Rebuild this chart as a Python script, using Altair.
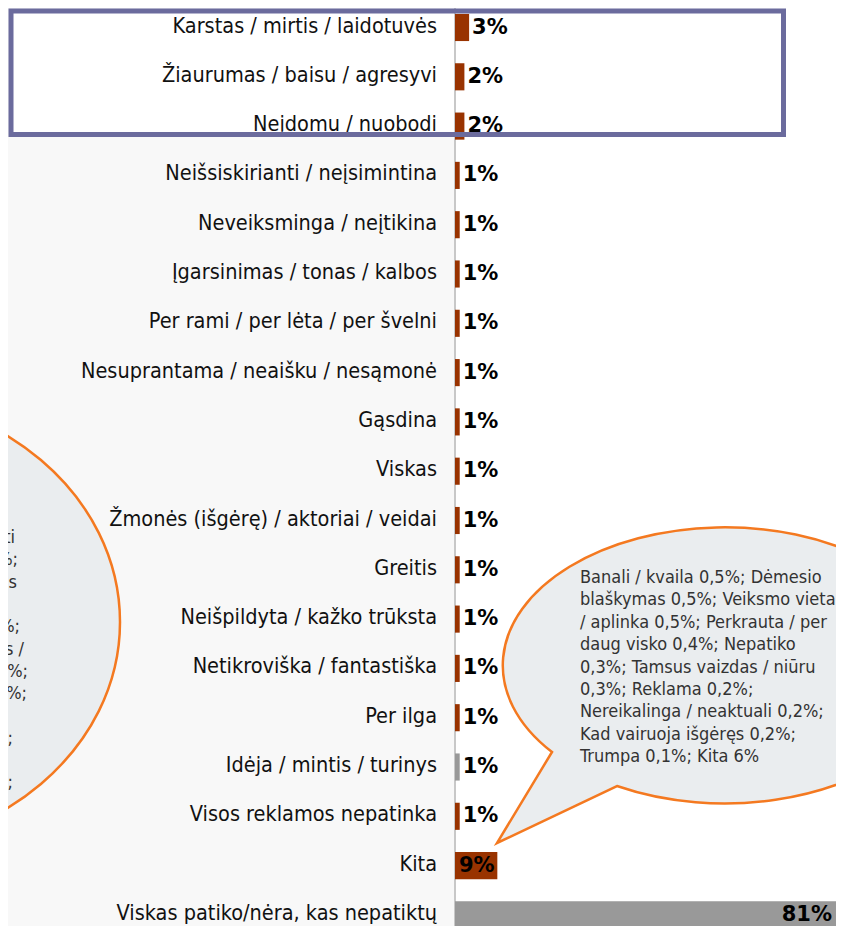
import altair as alt
import pandas as pd

# ---- data ----
CATEGORIES = [
    "Karstas / mirtis / laidotuvės",
    "Žiaurumas / baisu / agresyvi",
    "Neįdomu / nuobodi",
    "Neišsiskirianti / neįsimintina",
    "Neveiksminga / neįtikina",
    "Įgarsinimas / tonas / kalbos",
    "Per rami / per lėta / per švelni",
    "Nesuprantama / neaišku / nesąmonė",
    "Gąsdina",
    "Viskas",
    "Žmonės (išgėrę) / aktoriai / veidai",
    "Greitis",
    "Neišpildyta / kažko trūksta",
    "Netikroviška / fantastiška",
    "Per ilga",
    "Idėja / mintis / turinys",
    "Visos reklamos nepatinka",
    "Kita",
    "Viskas patiko/nėra, kas nepatiktų",
]
VALUES = [3, 2, 2, 1, 1, 1, 1, 1, 1, 1, 1, 1, 1, 1, 1, 1, 1, 9, 81]
GROUP = ["neg"] * 15 + ["neutral", "neg", "neg", "neutral"]

RIGHT_NOTE = [
    "Banali / kvaila 0,5%; Dėmesio",
    "blaškymas 0,5%; Veiksmo vieta",
    "/ aplinka 0,5%; Perkrauta / per",
    "daug visko 0,4%; Nepatiko",
    "0,3%; Tamsus vaizdas / niūru",
    "0,3%; Reklama 0,2%;",
    "Nereikalinga / neaktuali 0,2%;",
    "Kad vairuoja išgėręs 0,2%;",
    "Trumpa 0,1%; Kita 6%",
]
# visible right-hand ends of the cropped left note
LEFT_NOTE = ["nti", "%;", "as", ";", "%;", "as /", "1%;", "1%;", ";", "%;", "", "%;"]
LEFT_NOTE_END_X = [7, 10, 9, -5, 12, 16, 20, 19, -5, 5, 0, 5]

# ---- layout ----
W, H = 828, 918
ZERO_X = 447
PPU = (W - ZERO_X) / 81.0
X_DOMAIN = [-ZERO_X / PPU, (W - ZERO_X) / PPU]
STEP = 49.3
FIRST_C = 19.5
Y_RANGE = [FIRST_C - STEP / 2, FIRST_C - STEP / 2 + STEP * len(CATEGORIES)]

BROWN = "#993300"
GRAY = "#999999"
LABEL_FONT = "DejaVu Sans Condensed"
PCT_FONT = "DejaVu Sans"
CAT_SIZE = 21.5
NOTE_SIZE = 18
PCT_SIZE = 21

df = pd.DataFrame({"cat": CATEGORIES, "val": VALUES, "grp": GROUP})
df["lab"] = df["val"].astype(str) + "%"
df["row"] = list(range(len(df)))
df["zero"] = 0

xs = alt.Scale(domain=X_DOMAIN, nice=False, zero=False)
ys = alt.Scale(range=Y_RANGE, paddingInner=0.45, paddingOuter=0.225)
Y = alt.Y("cat:N", scale=ys, axis=None, sort=CATEGORIES)

base = alt.Chart(df)
one = pd.DataFrame({"a": [0]})

plot_bg = base.mark_rect(color="white").encode(
    x=alt.X("zero:Q", scale=xs, axis=None), x2=alt.value(W), y=alt.value(0), y2=alt.value(H)
)
box_fill = alt.Chart(one).mark_rect(color="white").encode(
    x=alt.value(3), x2=alt.value(775.5), y=alt.value(3), y2=alt.value(126.5)
)

left_bubble = alt.Chart(one).mark_point(
    shape="M -270 0 A 270 229 0 1 0 270 0 A 270 229 0 1 0 -270 0 Z",
    size=4, filled=True, fill="#eaedef", stroke="#f47920", strokeWidth=2.5,
    opacity=1, fillOpacity=1, strokeOpacity=1,
).encode(x=alt.value(-158), y=alt.value(614))

left_texts = [
    alt.Chart(one).mark_text(
        text=t, align="right", baseline="middle", font=LABEL_FONT, fontSize=NOTE_SIZE, color="#333333"
    ).encode(x=alt.value(xe), y=alt.value(530 + 22.3 * i))
    for i, (t, xe) in enumerate(zip(LEFT_NOTE, LEFT_NOTE_END_X)) if t
]

axis_rule = base.mark_rule(color="#c8c8c8", strokeWidth=2).encode(
    x=alt.X("zero:Q", scale=xs, axis=None), y=alt.value(0), y2=alt.value(H)
)

bars = base.mark_bar().encode(
    x=alt.X("val:Q", scale=xs, axis=None), x2="zero:Q", y=Y,
    color=alt.Color("grp:N", scale=alt.Scale(domain=["neg", "neutral"], range=[BROWN, GRAY]), legend=None),
)

cat_labels = base.mark_text(
    align="right", baseline="middle", dx=-18, dy=-1, font=LABEL_FONT, fontSize=CAT_SIZE, color="#111111"
).encode(x=alt.X("zero:Q", scale=xs, axis=None), y=Y, text="cat:N")

pct_small = base.transform_filter("datum.row < 17").mark_text(
    align="left", baseline="middle", dx=3, font=PCT_FONT, fontSize=PCT_SIZE, fontWeight="bold", color="black"
).encode(x=alt.X("val:Q", scale=xs, axis=None), y=Y, text="lab:N")
pct_kita = base.transform_filter("datum.row == 17").mark_text(
    align="left", baseline="middle", dx=4, font=PCT_FONT, fontSize=PCT_SIZE, fontWeight="bold", color="black"
).encode(x=alt.X("zero:Q", scale=xs, axis=None), y=Y, text="lab:N")
pct_big = base.transform_filter("datum.row == 18").mark_text(
    align="right", baseline="middle", dx=-4, font=PCT_FONT, fontSize=PCT_SIZE, fontWeight="bold", color="black"
).encode(x=alt.X("val:Q", scale=xs, axis=None), y=Y, text="lab:N")

box_stroke = alt.Chart(one).mark_rect(
    fillOpacity=0, stroke="#6b6b9d", strokeWidth=5
).encode(x=alt.value(3), x2=alt.value(775.5), y=alt.value(3), y2=alt.value(126.5))

right_bubble = alt.Chart(one).mark_point(
    shape="M -168 90 L -223 181 L -103 124 A 222 138 0 1 0 -168 90 Z",
    size=4, filled=True, fill="#eaedef", stroke="#f47920", strokeWidth=2.5,
    opacity=1, fillOpacity=1, strokeOpacity=1,
).encode(x=alt.value(712), y=alt.value(654))

right_texts = [
    alt.Chart(one).mark_text(
        text=t, align="left", baseline="middle",
        font=LABEL_FONT, fontSize=NOTE_SIZE, color="#333333",
    ).encode(x=alt.value(572), y=alt.value(570 + 22.4 * i))
    for i, t in enumerate(RIGHT_NOTE)
]

chart = alt.layer(
    plot_bg, box_fill, left_bubble, *left_texts, axis_rule, bars, cat_labels,
    pct_small, pct_kita, pct_big, box_stroke, right_bubble, *right_texts,
).properties(
    width=W, height=H, background="#f8f8f8", padding=0,
    autosize=alt.AutoSizeParams(type="none"),
).configure_view(strokeWidth=0)

chart.save("out.html", embed_options={"renderer": "svg", "actions": False})
